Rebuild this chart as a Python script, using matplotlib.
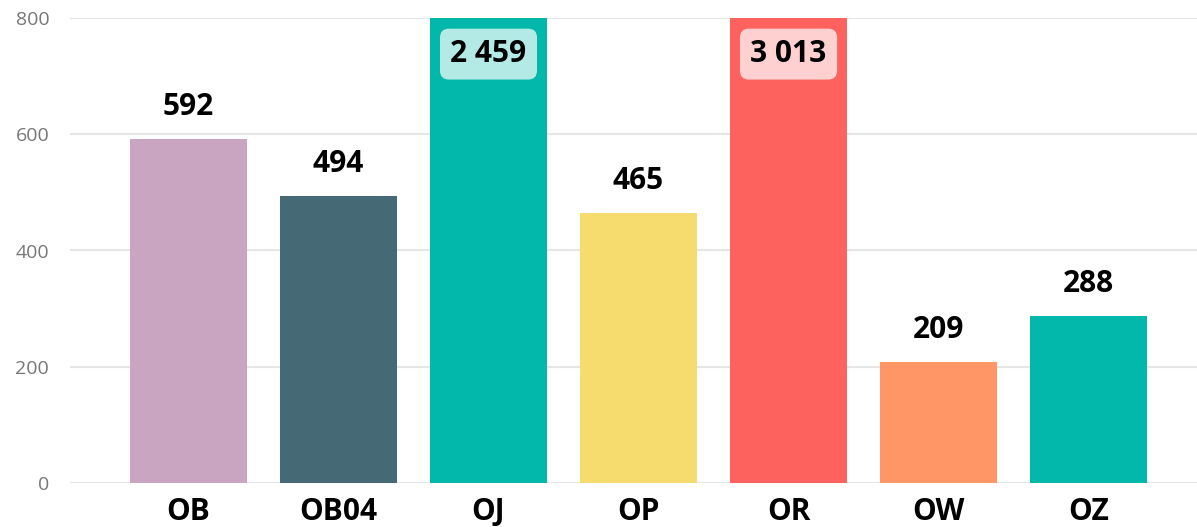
import numpy as np
import matplotlib.pyplot as plt
import matplotlib.colors as mcolors

plt.rcParams['font.family'] = ['Open Sans', 'DejaVu Sans']

categories = ['OB', 'OB04', 'OJ', 'OP', 'OR', 'OW', 'OZ']
values = [592, 494, 2459, 465, 3013, 209, 288]
colors = ['#C9A5C1', '#466A75', '#01B8AA', '#F6DB6F', '#FD625E', '#FE9666', '#01B8AA']
y_max = 800
y_ticks = [0, 200, 400, 600, 800]

fig = plt.figure(figsize=(11.97, 5.27), dpi=100)
ax = fig.add_axes([70 / 1197, 1 - 483 / 527, 1 - 70 / 1197, 465 / 527])

x = np.arange(len(categories))
shown = [min(v, y_max) for v in values]
ax.bar(x, shown, width=0.78, color=colors, zorder=2)

for i, v in enumerate(values):
    label = f'{v:,}'.replace(',', ' ')
    if v > y_max:
        light = mcolors.to_rgba(colors[i])
        light = tuple(0.3 * c + 0.7 for c in light[:3])
        ax.annotate(label, (i, y_max), xytext=(0, -26), textcoords='offset points',
                    ha='center', va='center', fontsize=21.5, fontweight='bold',
                    bbox=dict(boxstyle='round,pad=0.35,rounding_size=0.3', fc=light, ec='none'),
                    zorder=3)
    else:
        ax.annotate(label, (i, v), xytext=(0, 23), textcoords='offset points',
                    ha='center', va='center', fontsize=21.5, fontweight='bold',
                    zorder=3)

ax.set_xlim(-0.79, 6.723)
ax.set_ylim(0, y_max)
ax.set_yticks(y_ticks)
ax.set_xticks(x)
ax.set_xticklabels(categories, fontsize=21.5, fontweight='bold')
ax.tick_params(axis='x', length=0, pad=10)
ax.tick_params(axis='y', length=0, pad=15, labelsize=14, labelcolor='#777777')
ax.grid(axis='y', color='#E6E6E6', linewidth=1.5, zorder=0)
for s in ax.spines.values():
    s.set_visible(False)

fig.savefig('out.png', dpi=100)
